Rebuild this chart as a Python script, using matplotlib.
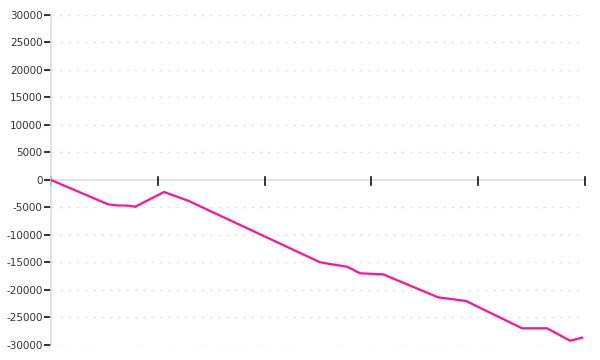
import matplotlib
matplotlib.use("Agg")
import matplotlib.pyplot as plt

# Data (x in axis units: each major tick = 1 unit)
x_vals = [0, 0.534, 0.618, 0.730, 0.787, 1.058, 1.283, 2.519, 2.612, 2.772,
          2.893, 3.109, 3.624, 3.886, 4.410, 4.644, 4.860, 4.972]
y_vals = [0, -4420, -4620, -4670, -4870, -2180, -3760, -14960, -15270, -15760,
          -16960, -17150, -21330, -22000, -26960, -26960, -29220, -28670]
x_ticks = [0, 1, 2, 3, 4, 5]
y_ticks = [-30000, -25000, -20000, -15000, -10000, -5000, 0,
           5000, 10000, 15000, 20000, 25000, 30000]

plt.rcParams['axes.unicode_minus'] = False
fig = plt.figure(figsize=(6, 3.6), dpi=100)
ax = fig.add_axes([0.085, 0.04167, 0.89, 0.9167])

for yv in y_ticks:
    if yv != 0:
        ax.axhline(yv, color='#e6e6e6', lw=1, linestyle=(0, (2, 4)), zorder=0)
ax.axhline(0, color='#dddddd', lw=1.2, zorder=1)

ax.plot(x_vals, y_vals, color='#ff1493', lw=1.6, zorder=3, solid_joinstyle='miter')

ax.set_xlim(0, 5)
ax.set_ylim(-30000, 30000)
ax.set_yticks(y_ticks)
ax.set_yticklabels([str(v) for v in y_ticks])
ax.set_xticks([])

# x ticks drawn on the zero line
for xt in x_ticks:
    ax.plot([xt, xt], [-900, 600], color='#111111', lw=1.2, zorder=2, clip_on=False)

for s in ['top', 'right', 'bottom']:
    ax.spines[s].set_visible(False)
ax.spines['left'].set_color('#dddddd')
ax.spines['left'].set_linewidth(1.2)
ax.tick_params(axis='y', length=5, width=1.2, color='#111111', pad=1,
               labelsize=7.5, labelcolor='#333333')

fig.savefig('out.png', dpi=100)
